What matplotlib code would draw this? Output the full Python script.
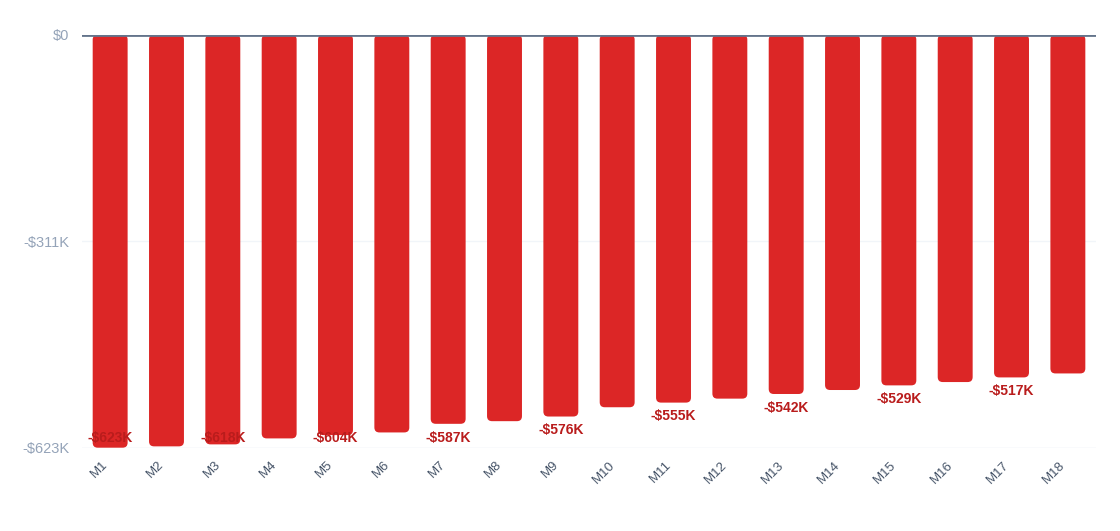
import matplotlib
matplotlib.use("Agg")
import matplotlib.pyplot as plt
from matplotlib.patches import FancyBboxPatch

# monthly cumulative values, in $K
months = [f"M{i}" for i in range(1, 19)]
values = [-623, -621, -618, -609, -604, -600, -587, -583, -576,
          -562, -555, -549, -542, -536, -529, -524, -517, -511]
y_min = -623
y_ticks = [0, -311.5, -623]
y_tick_labels = ["$0", "-$311K", "-$623K"]

plt.rcParams["font.family"] = ["Liberation Sans", "DejaVu Sans"]

fig = plt.figure(figsize=(11.2, 5.31), dpi=100)
ax = fig.add_axes([0.0732, 0.1569, 0.9054, 0.7778])

bar_w = 0.62
# x unit ~56 px, y unit ~0.66 px -> aspect for round corners
px_x = 1014 / 18
px_y = 413 / 623
r_px = 5
for i, v in enumerate(values):
    p = FancyBboxPatch((i - bar_w / 2, v), bar_w, -v,
                       boxstyle=f"round,pad=0,rounding_size={r_px / px_x}",
                       mutation_aspect=px_x / px_y,
                       facecolor="#DC2626", edgecolor="none", zorder=3)
    ax.add_patch(p)

# labels on every other bar
for i, v in enumerate(values):
    if i % 2 != 0:
        continue
    lab = f"-${abs(v)}K"
    below_px = (v - y_min) * px_y
    if below_px > 24:
        ax.annotate(lab, (i, v), xytext=(0, -10), textcoords="offset points",
                    ha="center", va="center", fontsize=10, fontweight="bold",
                    color="#B91C1C", zorder=4)
    else:
        ax.annotate(lab, (i, y_min), xytext=(0, 6.9), textcoords="offset points",
                    ha="center", va="center", fontsize=10, fontweight="bold",
                    color="#B91C1C", zorder=4)

ax.set_xlim(-0.5, len(months) - 0.5)
ax.set_ylim(y_min, 0)
ax.set_xticks(range(len(months)))
ax.set_xticklabels(months, rotation=45, ha="right", va="top",
                   fontsize=9.5, color="#475569")
ax.set_yticks(y_ticks)
ax.set_yticklabels(y_tick_labels, fontsize=10.5, color="#94A3B8")
ax.tick_params(axis="both", length=0)
ax.tick_params(axis="y", pad=9)
ax.tick_params(axis="x", pad=8)

for s in ax.spines.values():
    s.set_visible(False)
ax.axhline(-311.5, color="#F1F5F9", lw=1, zorder=1)
ax.axhline(y_min, color="#E2E8F0", lw=1, zorder=1)
ax.axhline(0, color="#64748B", lw=2, zorder=5)

fig.savefig("out.png", dpi=100)
